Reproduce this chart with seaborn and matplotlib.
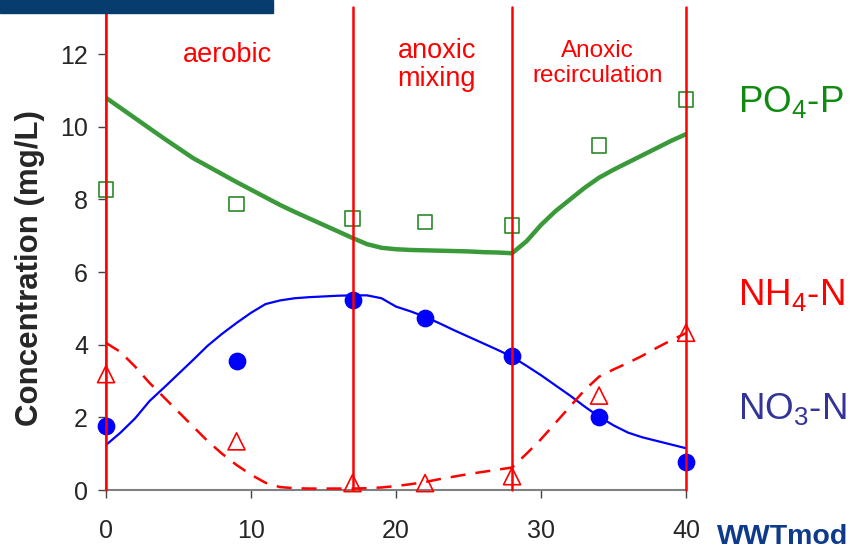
import numpy as np
import pandas as pd
import seaborn as sns
import matplotlib.pyplot as plt
from matplotlib.patches import Rectangle

# measured values (markers)
t_meas = [0, 9, 17, 22, 28, 34, 40]
po4_meas = [8.27, 7.88, 7.48, 7.38, 7.28, 9.48, 10.75]
no3_meas = [1.76, 3.55, 5.22, 4.74, 3.70, 2.01, 0.76]
nh4_meas = [3.19, 1.34, 0.19, 0.19, 0.38, 2.60, 4.33]

# simulated values (lines)
t_model = list(range(0, 41))
po4_model = [10.80, 10.52, 10.24, 9.96, 9.68, 9.41, 9.14, 8.92, 8.70, 8.48,
             8.27, 8.06, 7.85, 7.66, 7.48, 7.30, 7.12, 6.94, 6.77, 6.67,
             6.63, 6.61, 6.60, 6.59, 6.58, 6.57, 6.55, 6.54, 6.52, 6.85,
             7.30, 7.68, 8.00, 8.32, 8.60, 8.82, 9.02, 9.22, 9.42, 9.62,
             9.80]
no3_model = [1.24, 1.58, 1.97, 2.45, 2.82, 3.20, 3.58, 3.97, 4.30, 4.60,
             4.88, 5.12, 5.22, 5.28, 5.31, 5.33, 5.35, 5.36, 5.36, 5.28,
             5.05, 4.92, 4.77, 4.59, 4.40, 4.22, 4.04, 3.86, 3.67, 3.42,
             3.16, 2.88, 2.60, 2.30, 2.02, 1.78, 1.58, 1.45, 1.35, 1.25,
             1.15]
nh4_model = [4.05, 3.80, 3.40, 2.95, 2.55, 2.15, 1.75, 1.35, 1.00, 0.69,
             0.42, 0.20, 0.08, 0.05, 0.04, 0.04, 0.04, 0.04, 0.05, 0.07,
             0.11, 0.16, 0.22, 0.30, 0.37, 0.44, 0.50, 0.56, 0.62, 1.00,
             1.40, 1.85, 2.30, 2.75, 3.12, 3.32, 3.50, 3.70, 3.92, 4.13,
             4.32]

phase_bounds = [0, 17, 28, 40]
yticks = [0, 2, 4, 6, 8, 10, 12]
xticks = [0, 10, 20, 30, 40]

model = pd.DataFrame({"t": t_model, "PO4": po4_model,
                      "NO3": no3_model, "NH4": nh4_model})
meas = pd.DataFrame({"t": t_meas, "PO4": po4_meas,
                     "NO3": no3_meas, "NH4": nh4_meas})

sns.set_theme(style="ticks")
plt.rcParams["font.family"] = ["Liberation Sans", "DejaVu Sans"]

fig = plt.figure(figsize=(8.55, 5.52), dpi=100)
ax = fig.add_axes([0.124, 0.1123, 0.6784, 0.8750])

green_line = "#3a9a3a"
green_mark = "#2a8a2a"
blue = "#0000ff"
red = "#ff0000"

sns.lineplot(data=model, x="t", y="PO4", ax=ax, color=green_line,
             linewidth=3.2, zorder=3)
sns.lineplot(data=model, x="t", y="NO3", ax=ax, color=blue,
             linewidth=1.6, zorder=3)
sns.lineplot(data=model, x="t", y="NH4", ax=ax, color=red,
             linewidth=1.8, zorder=3)
ax.lines[-1].set_dashes((6, 4))

sns.scatterplot(data=meas, x="t", y="PO4", ax=ax, marker="s", s=110,
                facecolor="none", edgecolor=green_mark, linewidth=1.2,
                zorder=4, clip_on=False)
sns.scatterplot(data=meas, x="t", y="NO3", ax=ax, marker="o", s=140,
                color=blue, edgecolor=blue, zorder=4, clip_on=False)
sns.scatterplot(data=meas, x="t", y="NH4", ax=ax, marker="^", s=150,
                facecolor="none", edgecolor=red, linewidth=1.2,
                zorder=4, clip_on=False)

for xb in phase_bounds:
    ax.axvline(xb, color=red, linewidth=1.8, zorder=5, clip_on=False)

ax.set_xlim(0, 40)
ax.set_ylim(0, 13.3)
ax.set_xticks(xticks)
ax.set_yticks(yticks)
ax.tick_params(axis="both", labelsize=18, length=6, width=1,
               color="#444444", direction="out")
ax.tick_params(axis="y", pad=7)
ax.tick_params(axis="x", pad=15)
sns.despine(ax=ax)
for side in ["left", "bottom"]:
    ax.spines[side].set_color("#808080")
    ax.spines[side].set_linewidth(1.5)

ax.set_xlabel("")
ax.set_ylabel("Concentration (mg/L)", fontsize=22.5, fontweight="bold")
ax.yaxis.set_label_coords(-0.105, 0.46)

# phase labels
ax.text(8.4, 11.97, "aerobic", color=red, fontsize=19.5,
        ha="center", va="center")
ax.text(22.8, 11.7, "anoxic\nmixing", color=red, fontsize=19.5,
        ha="center", va="center", linespacing=1.1)
ax.text(33.9, 11.75, "Anoxic\nrecirculation", color=red, fontsize=17.5,
        ha="center", va="center", linespacing=1.2)

# series labels
ax.text(43.6, 10.65, r"PO$_\mathregular{4}$-P", color="#108a10",
        fontsize=26.5, va="center", clip_on=False)
ax.text(43.6, 5.34, r"NH$_\mathregular{4}$-N", color=red,
        fontsize=26.5, va="center", clip_on=False)
ax.text(43.6, 2.2, r"NO$_\mathregular{3}$-N", color="#333399",
        fontsize=26.5, va="center", clip_on=False)

# top banner and logo
fig.patches.append(Rectangle((0, 1 - 13 / 552), 273 / 855, 13 / 552,
                             transform=fig.transFigure, color="#073c6e",
                             zorder=0))
fig.text(0.8386, 0.004, "WWTmod", color="#0d3a8c", fontsize=20.5,
         fontweight="heavy", ha="left", va="bottom")

fig.savefig("out.png", dpi=100)
plt.close()
